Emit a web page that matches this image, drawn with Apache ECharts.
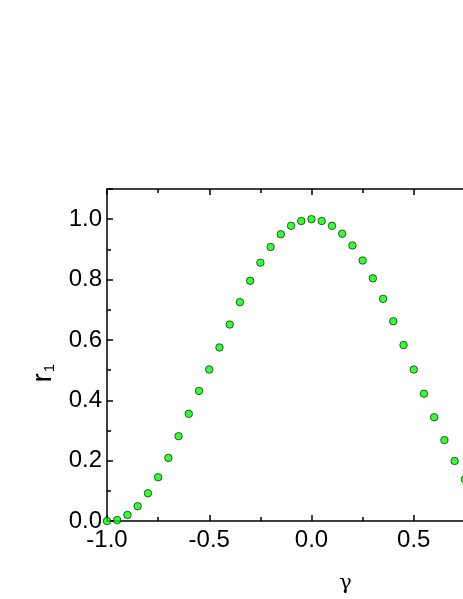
<!DOCTYPE html>
<html>
<head>
<meta charset="utf-8">
<script src="https://cdn.jsdelivr.net/npm/echarts@6/dist/echarts.min.js"></script>
<style>
  html, body { margin: 0; padding: 0; background: #fff; }
  #chart { width: 463px; height: 599px; }
</style>
</head>
<body>
<div id="chart"></div>
<script>
// gamma values (x) and r1 values (y)
const gamma = [-1.0, -0.95, -0.9, -0.85, -0.8, -0.75, -0.7, -0.65, -0.6, -0.55,
  -0.5, -0.45, -0.4, -0.35, -0.3, -0.25, -0.2, -0.15, -0.1, -0.05,
  0.0, 0.05, 0.1, 0.15, 0.2, 0.25, 0.3, 0.35, 0.4, 0.45,
  0.5, 0.55, 0.6, 0.65, 0.7, 0.75];
const r1 = [0.0, 0.003, 0.02, 0.049, 0.092, 0.145, 0.209, 0.281, 0.355, 0.431,
  0.502, 0.575, 0.651, 0.725, 0.796, 0.856, 0.908, 0.95, 0.978, 0.994,
  1.0, 0.994, 0.978, 0.952, 0.913, 0.863, 0.804, 0.736, 0.662, 0.583,
  0.502, 0.422, 0.344, 0.268, 0.199, 0.138];

const points = gamma.map((g, i) => [g, r1[i]]);

const font = "'Liberation Sans', Arial, sans-serif";
const lineStyle = { color: '#000', width: 1.5 };

let myChart = echarts.init(document.getElementById('chart'));
myChart.setOption({
  animation: false,
  // plot runs past the right edge of the picture (x axis goes to 1.0)
  grid: { left: 107, top: 189, bottom: 78, right: -53, containLabel: false, outerBoundsMode: 'none' },
  xAxis: [
    {
      type: 'value',
      min: -1.0,
      max: 1.0,
      interval: 0.5,
      position: 'bottom',
      name: 'γ',
      nameLocation: 'middle',
      nameGap: 52,
      nameTextStyle: { fontFamily: "'DejaVu Serif', serif", fontSize: 21, color: '#000', padding: [0, 0, 0, 68] },
      axisLine: { onZero: false, lineStyle: lineStyle },
      axisTick: { inside: true, length: 6, lineStyle: lineStyle },
      minorTick: { show: true, splitNumber: 2, length: 4, lineStyle: lineStyle },
      splitLine: { show: false },
      axisLabel: {
        margin: 7, fontSize: 24, fontFamily: font, color: '#000',
        formatter: (v) => v.toFixed(1)
      }
    },
    {
      type: 'value',
      min: -1.0,
      max: 1.0,
      interval: 0.5,
      position: 'top',
      axisLine: { onZero: false, lineStyle: lineStyle },
      axisTick: { inside: true, length: 6, lineStyle: lineStyle },
      minorTick: { show: true, splitNumber: 2, length: 4, lineStyle: lineStyle },
      splitLine: { show: false },
      axisLabel: { show: false }
    }
  ],
  yAxis: {
    type: 'value',
    min: 0,
    max: 1.1,
    interval: 0.2,
    name: '{r|r}{s|1}',
    nameLocation: 'middle',
    nameGap: 50,
    nameTextStyle: {
      color: '#000',
      padding: [0, 36, 0, 0],
      rich: {
        r: { fontFamily: font, fontSize: 27, color: '#000' },
        s: { fontFamily: font, fontSize: 15, color: '#000', padding: [12, 0, 0, 1] }
      }
    },
    axisLine: { onZero: false, lineStyle: lineStyle },
    axisTick: { inside: true, length: 6, lineStyle: lineStyle },
    minorTick: { show: true, splitNumber: 2, length: 4, lineStyle: lineStyle },
    splitLine: { show: false },
    axisLabel: {
      margin: 5, fontSize: 24, fontFamily: font, color: '#000',
      showMaxLabel: false,
      formatter: (v) => (v > 1.05 ? '' : v.toFixed(1))
    }
  },
  series: [
    {
      type: 'scatter',
      data: points,
      symbol: 'circle',
      symbolSize: 7.5,
      itemStyle: { color: '#00ff00', borderColor: '#000', borderWidth: 0.8 },
      clip: false
    }
  ]
});
</script>
</body>
</html>
